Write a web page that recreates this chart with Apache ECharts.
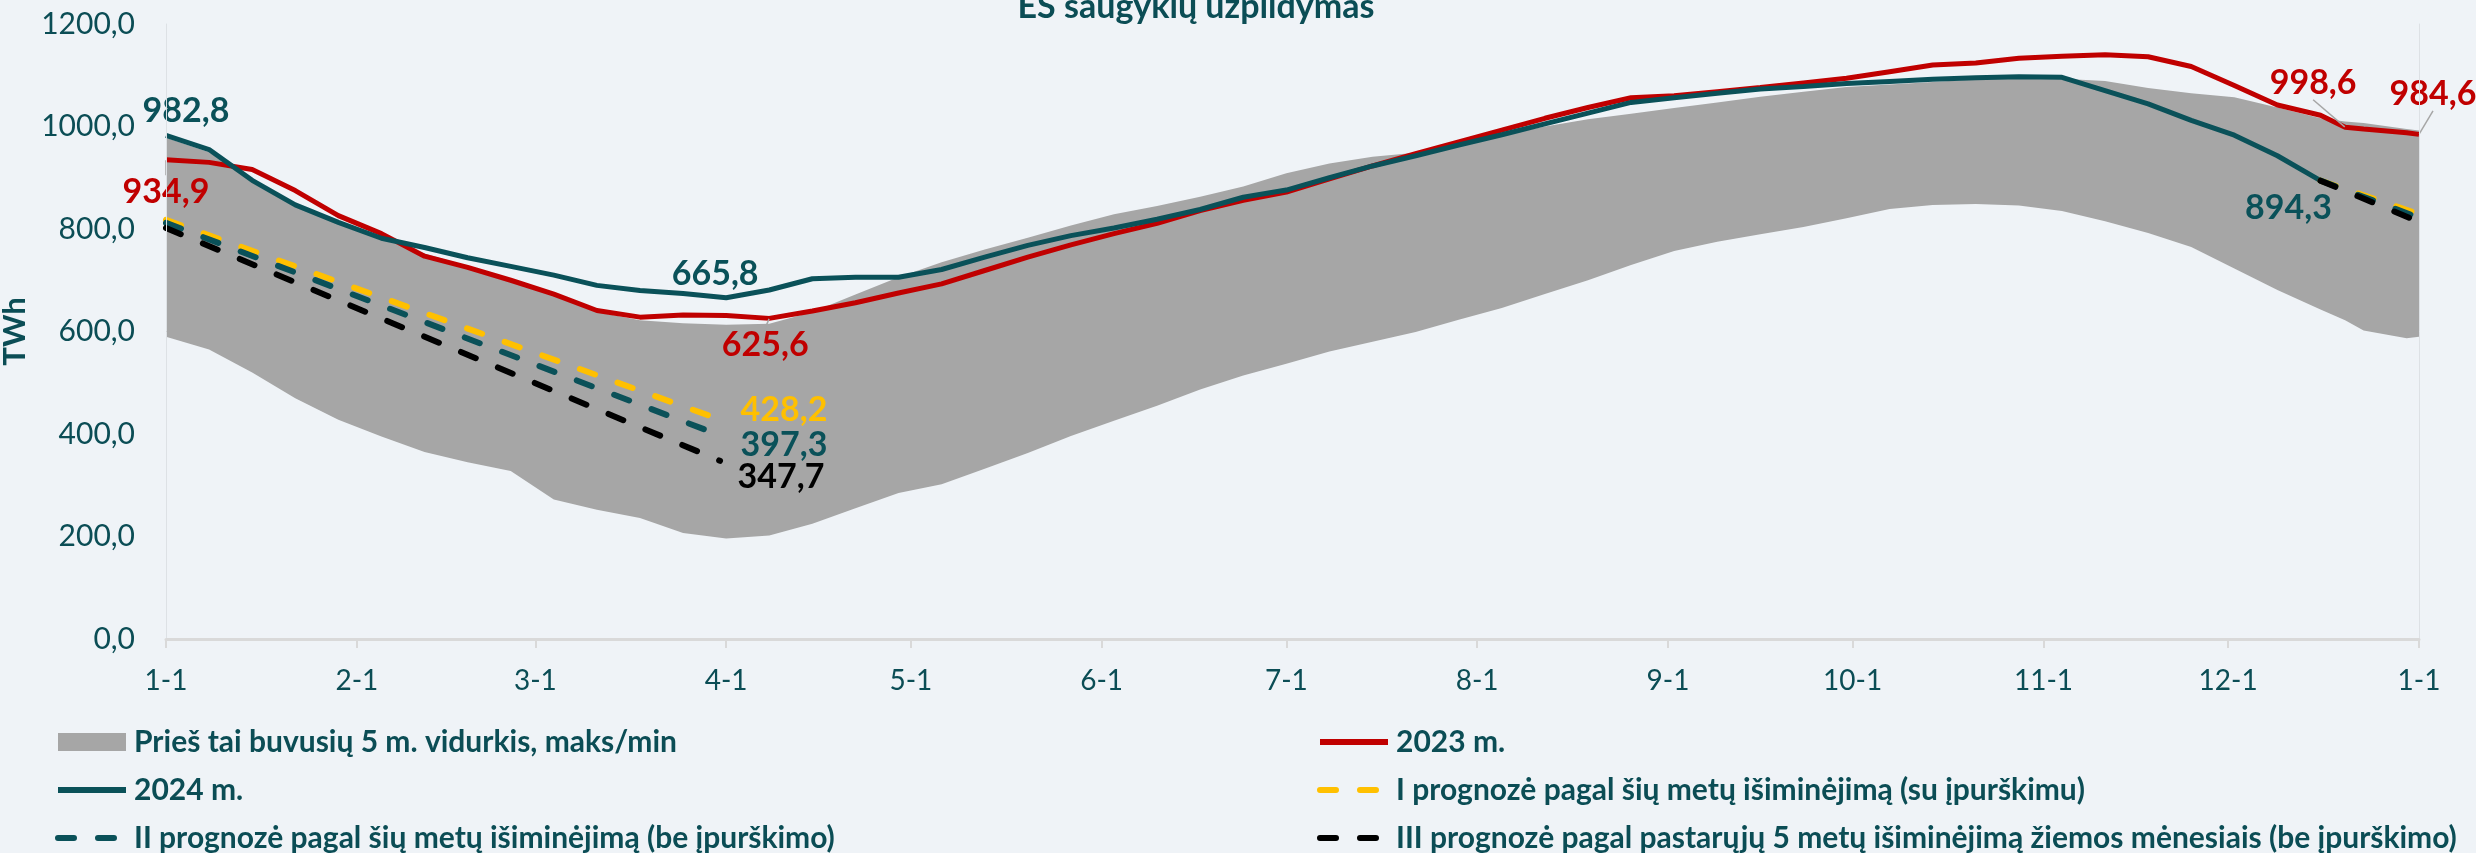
<!DOCTYPE html>
<html>
<head>
<meta charset="utf-8">
<script src="https://cdn.jsdelivr.net/npm/echarts@6/dist/echarts.min.js"></script>
<style>
html,body{margin:0;padding:0;background:#eff3f7;}
#c{width:2476px;height:853px;}
</style>
</head>
<body>
<div id="c"></div>
<script>
// ---- data (day index from 1 January) ----
const days = [0,7,14,21,28,35,42,49,56,63,70,77,84,91,98,105,112,119,126,133,140,147,154,161,168,175,182,189,196,203,210,217,224,231,238,245,252,259,266,273,280,287,294,301,308,315,322,329,336,343,350,354,357,364,366];
const bandMax = [978,950,900,846,812,781,752,728,703,670,638,622,616,613,615,638,672,706,735,760,783,807,829,845,863,883,909,928,941,949,966,983,1000,1014,1025,1036,1047,1058,1068,1077,1082,1087,1092,1093,1093,1089,1075,1065,1057,1037,1016,1010,1007,995,992];
const bandMin = [590,565,520,470,428,395,365,345,328,272,252,236,207,196,202,225,255,285,302,332,363,396,426,455,487,514,537,561,580,599,623,646,673,700,730,757,775,790,804,821,839,847,849,846,835,815,792,765,723,681,643,622,602,587,590];
const y2023 = [934.9,930,916,875,826,791,747,725,700,673,641,628,632,631,625.6,640,656,675,693,719,745,769,791,811,836,856,872,898,923,947,970,993,1016,1037,1056,1060,1068,1076,1085,1094,1107,1120,1124,1133,1137,1140,1136,1117,1080,1042,1022,998.6,995,988,984.6];
const y2024 = [982.8,955,895,847,813,782,764,744,727,710,690,680,674,665.8,681,703,706,706,721,745,768,787,802,819,838,862,876,900,923,943,964,984,1005,1026,1047,1056,1065,1073,1078,1084,1088,1092,1095,1097,1096,1070,1044,1012,983,943,894.3];
const fcDaysSpring = [0, 90];
const fc1Spring = [818, 428.2];
const fc2Spring = [812, 397.3];
const fc3Spring = [802, 347.7];
const fcDaysWinter = [350, 366];
const fc1Winter = [894.3, 829];
const fc2Winter = [894.3, 822];
const fc3Winter = [894.3, 814];
const monthStarts = [0,31,60,91,121,152,182,213,244,274,305,335,366];
const monthLabels = ['1-1','2-1','3-1','4-1','5-1','6-1','7-1','8-1','9-1','10-1','11-1','12-1','1-1'];

const N_BAND = 'Prieš tai buvusių 5 m. vidurkis, maks/min';
const N_2023 = '2023 m.';
const N_2024 = '2024 m.';
const N_I = 'I prognozė pagal šių metų išiminėjimą (su įpurškimu)';
const N_II = 'II prognozė pagal šių metų išiminėjimą (be įpurškimo)';
const N_III = 'III prognozė pagal pastarųjų 5 metų išiminėjimą žiemos mėnesiais (be įpurškimo)';

const BG = '#eff3f7';
const TEAL = '#0a5159';
const TXT = '#0b4d55';
const RED = '#c00000';
const YEL = '#ffc000';
const GRAY = '#a6a6a6';
const FONT = 'Lato';

const fmt = v => v.toFixed(1).replace('.', ',');

function pts(xs, ys, labels) {
  return ys.map((v, i) => {
    const lab = labels && labels[i];
    if (!lab) return [xs[i], v];
    return {
      value: [xs[i], v],
      symbol: 'circle', symbolSize: 1,
      itemStyle: {color: 'rgba(0,0,0,0)'},
      label: Object.assign({show: true, fontFamily: FONT, fontWeight: 'bold', fontSize: 34,
        formatter: p => fmt(p.value[1])}, lab)
    };
  });
}

const lbl = (color, extra) => Object.assign({color: color}, extra);

const i098 = days.indexOf(98);
const i354 = days.indexOf(354);
const iLast = days.length - 1;
const redShift = {};
redShift[0] = {dx: 0, dy: 10};
redShift[i098] = {dx: -4, dy: 4};
redShift[i354] = {dx: -32, dy: -22};
redShift[iLast] = {dx: 14, dy: -18};

const dashStyle = (c) => ({color: c, width: 6, type: [16, 24], cap: 'round'});

const legendCommon = {
  top: 725, orient: 'vertical', itemWidth: 68, itemHeight: 18, itemGap: 14,
  padding: 0, height: 170, selectedMode: false,
  itemStyle: {opacity: 0},
  lineStyle: {width: 6},
  textStyle: {color: TXT, fontFamily: FONT, fontWeight: 'bold', fontSize: 30, lineHeight: 34, padding: [0,0,0,3]}
};

const chart = echarts.init(document.getElementById('c'), null, {renderer: 'canvas'});
chart.setOption({
  animation: false,
  backgroundColor: BG,
  textStyle: {fontFamily: FONT},
  graphic: [{
    type: 'text', x: 1196, y: 24,
    style: {text: 'ES saugyklų užpildymas', fill: TXT, font: 'bold 34px Lato', textAlign: 'center', textVerticalAlign: 'bottom'}
  }],
  grid: {left: 166, right: 57, top: 24, bottom: 214, containLabel: false, outerBoundsMode: 'none'},
  legend: [
    Object.assign({}, legendCommon, {
      left: 55,
      data: [{name: N_BAND, icon: 'rect', itemStyle: {color: GRAY, opacity: 1}}, N_2024, N_II]
    }),
    Object.assign({}, legendCommon, {
      left: 1317,
      data: [N_2023, N_I, N_III]
    })
  ],
  xAxis: {
    type: 'value', min: 0, max: 366, z: 10,
    axisLine: {show: true, lineStyle: {color: '#d9d9d9', width: 3}},
    axisTick: {show: true, customValues: monthStarts, length: 9, lineStyle: {color: '#d9d9d9', width: 2}},
    axisLabel: {customValues: monthStarts, formatter: v => monthLabels[monthStarts.indexOf(v)],
      color: TXT, fontSize: 28, margin: 28, fontFamily: FONT},
    splitLine: {show: false}
  },
  yAxis: [{
    type: 'value', min: 0, max: 1200, interval: 200, z: 10,
    name: 'TWh', nameLocation: 'middle', nameRotate: 90, nameGap: 113,
    nameTextStyle: {color: TXT, fontWeight: 'bold', fontSize: 31, fontFamily: FONT},
    axisLine: {show: true, lineStyle: {color: '#dde1e5', width: 1}},
    axisTick: {show: false},
    splitLine: {show: false},
    axisLabel: {formatter: v => fmt(v), color: TXT, fontSize: 30, margin: 31, fontFamily: FONT}
  }, {
    type: 'value', min: 0, max: 1200, interval: 200, position: 'right', z: 10,
    axisLine: {show: true, lineStyle: {color: '#dde1e5', width: 1}},
    axisTick: {show: false}, axisLabel: {show: false}, splitLine: {show: false}
  }],
  series: [
    {
      type: 'line', name: N_BAND, symbol: 'none', silent: true, z: 1,
      lineStyle: {opacity: 0, color: GRAY},
      itemStyle: {color: GRAY},
      areaStyle: {color: GRAY, opacity: 1, origin: 'start'},
      data: pts(days, bandMax)
    },
    {
      type: 'line', name: 'bandLower', symbol: 'none', silent: true, z: 1,
      lineStyle: {opacity: 0, color: BG},
      areaStyle: {color: BG, opacity: 1, origin: 'start'},
      data: pts(days, bandMin)
    },
    {
      type: 'line', name: N_2023, symbol: 'none', z: 3,
      lineStyle: {color: RED, width: 5}, itemStyle: {color: RED},
      labelLine: {show: true, lineStyle: {color: GRAY, width: 1.5}},
      labelLayout: function (p) {
        return redShift[p.dataIndex] || {};
      },
      data: pts(days, y2023, {
        0: lbl(RED, {position: 'bottom', distance: 5}),
        [i098]: lbl(RED, {position: 'bottom', distance: 5}),
        [i354]: lbl(RED, {position: 'top', distance: 5}),
        [iLast]: lbl(RED, {position: 'top', distance: 5})
      })
    },
    {
      type: 'line', name: N_2024, symbol: 'none', z: 4,
      lineStyle: {color: TEAL, width: 5}, itemStyle: {color: TEAL},
      data: pts(days.slice(0, y2024.length), y2024, {
        0: lbl(TEAL, {position: 'top', distance: 4, offset: [20, -3]}),
        13: lbl(TEAL, {position: 'top', distance: 4, offset: [-11, -2]}),
        50: lbl(TEAL, {position: 'bottom', distance: 4, offset: [-32, 6]})
      })
    },
    {
      type: 'line', name: N_I, symbol: 'none', z: 5,
      lineStyle: dashStyle(YEL), itemStyle: {color: YEL},
      data: pts(fcDaysSpring, fc1Spring, {1: lbl(YEL, {position: 'right', distance: 20, offset: [0, -10]})})
    },
    {
      type: 'line', name: N_I, symbol: 'none', z: 5,
      lineStyle: dashStyle(YEL), itemStyle: {color: YEL},
      data: pts(fcDaysWinter, fc1Winter)
    },
    {
      type: 'line', name: N_II, symbol: 'none', z: 6,
      lineStyle: dashStyle(TEAL), itemStyle: {color: TEAL},
      data: pts(fcDaysSpring, fc2Spring, {1: lbl(TEAL, {position: 'right', distance: 20, offset: [0, 10]})})
    },
    {
      type: 'line', name: N_II, symbol: 'none', z: 6,
      lineStyle: dashStyle(TEAL), itemStyle: {color: TEAL},
      data: pts(fcDaysWinter, fc2Winter)
    },
    {
      type: 'line', name: N_III, symbol: 'none', z: 7,
      lineStyle: dashStyle('#000000'), itemStyle: {color: '#000000'},
      data: pts(fcDaysSpring, fc3Spring, {1: lbl('#000000', {position: 'right', distance: 17, offset: [0, 16]})})
    },
    {
      type: 'line', name: N_III, symbol: 'none', z: 7,
      lineStyle: dashStyle('#000000'), itemStyle: {color: '#000000'},
      data: pts(fcDaysWinter, fc3Winter)
    }
  ]
});
</script>
</body>
</html>
